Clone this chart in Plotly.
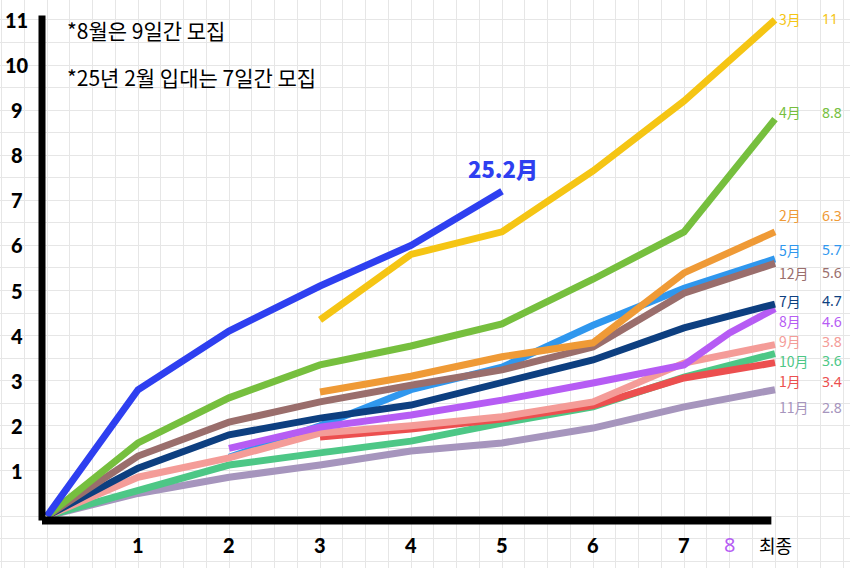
import plotly.graph_objects as go

# ---------------- data ----------------
steps = [0, 1, 2, 3, 4, 5, 6, 7, 8]          # 8 = 최종
x_tick_vals = [1, 2, 3, 4, 5, 6, 7, 7.5, 8]
x_tick_text = ["1", "2", "3", "4", "5", "6", "7", "8", "최종"]
y_tick_vals = list(range(1, 12))

blue_x = [0, 1, 2, 3, 4, 5]
blue_y = [0, 2.8, 4.1, 5.1, 6.0, 7.2]

mar = [None, None, None, 4.35, 5.8, 6.3, 7.65, 9.2, 11]
apr = [0, 1.62, 2.62, 3.35, 3.77, 4.26, 5.25, 6.3, 8.8]
feb = [None, None, None, 2.75, 3.1, 3.53, 3.84, 5.39, 6.3]
may = [None, None, 1.3, 2.0, 2.8, 3.3, 4.23, 5.05, 5.7]
dec = [0, 1.33, 2.08, 2.53, 2.9, 3.24, 3.75, 4.94, 5.6]
jul = [0, 1.06, 1.8, 2.17, 2.46, 2.95, 3.46, 4.17, 4.7]
aug_x = [2, 3, 4, 5, 6, 7, 7.5, 8]
aug_y = [1.5, 1.97, 2.24, 2.57, 2.95, 3.35, 4.06, 4.6]
sep = [0, 0.86, 1.29, 1.84, 2.0, 2.2, 2.53, 3.39, 3.8]
jan = [None, None, None, 1.75, 1.93, 2.15, 2.45, 3.06, 3.4]
octo = [0, 0.55, 1.13, 1.4, 1.66, 2.06, 2.42, 3.08, 3.6]
nov = [0, 0.5, 0.86, 1.13, 1.44, 1.62, 1.95, 2.42, 2.8]

# end labels: (month text, value text, colour, label y)
labels = [
    ("3月", "11", "#f5c514", 11.03),
    ("4月", "8.8", "#76bf3e", 8.95),
    ("2月", "6.3", "#ef9a36", 6.67),
    ("5月", "5.7", "#2f97ee", 5.90),
    ("12月", "5.6", "#9a6e6c", 5.39),
    ("7月", "4.7", "#0d3f80", 4.77),
    ("8月", "4.6", "#b65cf4", 4.32),
    ("9月", "3.8", "#f49c98", 3.88),
    ("10月", "3.6", "#4dc786", 3.44),
    ("1月", "3.4", "#ec4f4f", 2.99),
    ("11月", "2.8", "#a695bd", 2.41),
]

C_BLUE = "#2e3ff0"

fig = go.Figure()

def add(x, y, color):
    fig.add_trace(go.Scatter(x=x, y=y, mode="lines", connectgaps=False,
                             line=dict(color=color, width=7), hoverinfo="skip",
                             showlegend=False))

add(steps, nov, "#a695bd")
add(steps, octo, "#4dc786")
add(steps, jan, "#ec4f4f")
add(steps, may, "#2f97ee")
add(steps, sep, "#f49c98")
add(aug_x, aug_y, "#b65cf4")
add(steps, jul, "#0d3f80")
add(steps, dec, "#9a6e6c")
add(steps, feb, "#ef9a36")
add(steps, apr, "#76bf3e")
add(steps, mar, "#f5c514")
add(blue_x, blue_y, C_BLUE)

# axis lines (thick black L)
fig.add_shape(type="line", x0=-0.055, x1=-0.055, y0=-0.1, y1=11.1,
              line=dict(color="black", width=7), layer="above")
fig.add_shape(type="line", x0=-0.055, x1=7.96, y0=-0.1, y1=-0.1,
              line=dict(color="black", width=8), layer="above")

ann = []
tick_font = dict(family="Lato", size=20, color="black", weight=900)
for v in y_tick_vals:
    ann.append(dict(x=-0.33, y=v, text=str(v), showarrow=False,
                    xanchor="center", yanchor="middle", font=tick_font))
for v, t in zip(x_tick_vals, x_tick_text):
    if t == "8":
        f = dict(family="Noto Sans", size=20, color="#b65cf4")
    elif t == "최종":
        f = dict(family="Noto Sans CJK KR", size=18, color="black")
    else:
        f = tick_font
    ann.append(dict(x=v, y=-0.64, text=t, showarrow=False,
                    xanchor="center", yanchor="middle", font=f))

for m, val, col, ly in labels:
    ann.append(dict(x=8.03, y=ly, text=m, showarrow=False, xanchor="left",
                    yanchor="middle", borderpad=0,
                    font=dict(family="Noto Sans CJK KR", size=14, color=col)))
    ann.append(dict(x=8.5, y=ly, text=val, showarrow=False, xanchor="left",
                    yanchor="middle", borderpad=0,
                    font=dict(family="Noto Sans", size=14, color=col)))

note_font = dict(family="Noto Sans CJK KR", size=21, color="black")
ann.append(dict(x=0.2, y=10.78, text="*8월은 9일간 모집", showarrow=False,
                xanchor="left", yanchor="middle", font=note_font))
ann.append(dict(x=0.2, y=9.73, text="*25년 2월 입대는 7일간 모집", showarrow=False,
                xanchor="left", yanchor="middle", font=note_font))
ann.append(dict(x=5.01, y=7.72, text="25.2月", showarrow=False,
                xanchor="center", yanchor="middle",
                font=dict(family="Noto Sans CJK KR", size=22, color=C_BLUE, weight=900)))

fig.update_layout(
    width=850, height=568,
    margin=dict(l=0, r=0, t=0, b=0),
    paper_bgcolor="white", plot_bgcolor="white",
    annotations=ann,
    xaxis=dict(range=[-47 / 91, 803 / 91], tick0=0, dtick=0.25,
               showgrid=True, gridcolor="#e6e6e6", gridwidth=1,
               zeroline=False, showticklabels=False, showline=False, fixedrange=True),
    yaxis=dict(range=[-52 / 45.1, 516 / 45.1], tick0=0, dtick=0.5,
               showgrid=True, gridcolor="#e6e6e6", gridwidth=1,
               zeroline=False, showticklabels=False, showline=False, fixedrange=True),
)

fig.write_html("out.html")
